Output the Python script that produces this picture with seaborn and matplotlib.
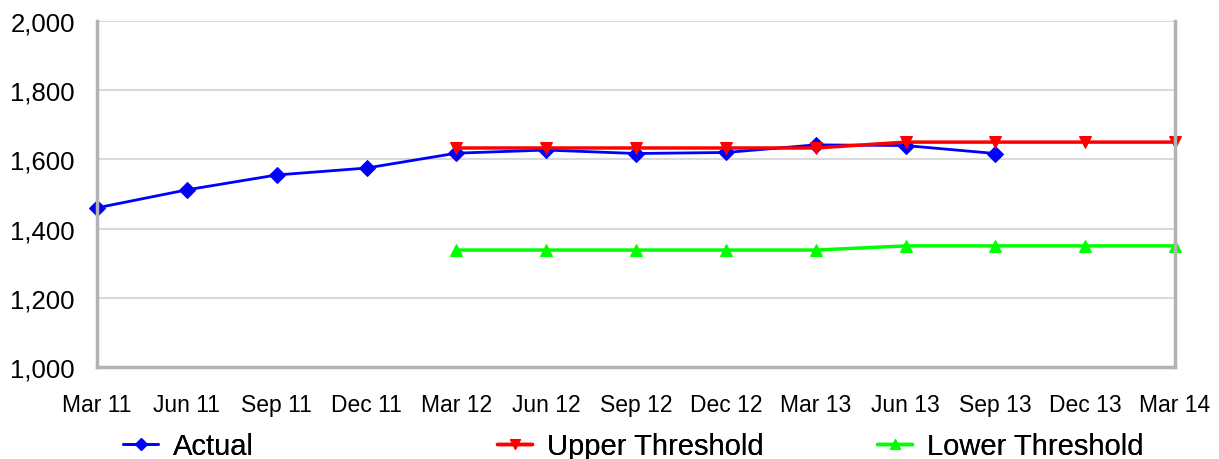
import seaborn as sns
import matplotlib.pyplot as plt
import pandas as pd

# Quarter labels along the x axis
quarters = ['Mar 11', 'Jun 11', 'Sep 11', 'Dec 11', 'Mar 12', 'Jun 12', 'Sep 12',
            'Dec 12', 'Mar 13', 'Jun 13', 'Sep 13', 'Dec 13', 'Mar 14']

actual = [1460, 1512, 1555, 1575, 1618, 1627, 1617, 1620, 1642, 1640, 1617]
upper = [1633, 1633, 1633, 1633, 1633, 1650, 1650, 1650, 1650]
lower = [1338, 1338, 1338, 1338, 1338, 1350, 1350, 1350, 1350]

sns.set_style('white')
plt.rcParams['font.family'] = ['Liberation Sans', 'DejaVu Sans']
plt.rcParams['text.color'] = 'black'

df_actual = pd.DataFrame({'pos': range(len(actual)), 'value': actual})
df_upper = pd.DataFrame({'pos': range(4, 4 + len(upper)), 'value': upper})
df_lower = pd.DataFrame({'pos': range(4, 4 + len(lower)), 'value': lower})

fig = plt.figure(figsize=(12.19, 4.6), dpi=100)
ax = fig.add_axes([97 / 1219, 1 - 368 / 460, (1175 - 97) / 1219, (368 - 22) / 460])

sns.lineplot(data=df_actual, x='pos', y='value', ax=ax, color='#0000ff', marker='D',
             markersize=8, markeredgecolor='#0000ff', linewidth=2, clip_on=False)
sns.lineplot(data=df_upper, x='pos', y='value', ax=ax, color='#ff0000', marker='v',
             markersize=9, markeredgecolor='#ff0000', linewidth=2.5, clip_on=False)
sns.lineplot(data=df_lower, x='pos', y='value', ax=ax, color='#00ff00', marker='^',
             markersize=9, markeredgecolor='#00ff00', linewidth=2.5, clip_on=False)

ax.set_xlim(0, len(quarters) - 1)
ax.set_ylim(1000, 2000)
ax.set_xticks(range(len(quarters)))
ax.set_xticklabels(quarters, fontsize=16.5, color='black')
ax.set_yticks(range(1000, 2001, 200))
ax.set_yticklabels([f'{v:,}' for v in range(1000, 2001, 200)], fontsize=18.5, color='black')
ax.set_xlabel('')
ax.set_ylabel('')

ax.yaxis.grid(True, color='#d9d9d9', linewidth=1.5)
ax.set_axisbelow(True)
for side in ['left', 'bottom', 'right']:
    ax.spines[side].set_color('#b3b3b3')
    ax.spines[side].set_linewidth(2.5)
ax.spines['top'].set_visible(False)
ax.tick_params(axis='y', direction='out', length=5, width=2, color='#b3b3b3', pad=11)
ax.tick_params(axis='x', direction='out', length=5, width=1, color='#b3b3b3', pad=14)

# Legend: three evenly spaced entries below the plot
lines = ax.get_lines()
names = ['Actual', 'Upper Threshold', 'Lower Threshold']
starts = [123, 497, 877]
for line, name, x0 in zip(lines, names, starts):
    leg = fig.legend([line], [name], loc='center left', bbox_to_anchor=(x0 / 1219, 13 / 460),
                     frameon=False, fontsize=21, borderpad=0, borderaxespad=0,
                     handlelength=1.2, handletextpad=0.5, markerscale=0.8)
    fig.add_artist(leg)

fig.savefig('out.png', dpi=100)
